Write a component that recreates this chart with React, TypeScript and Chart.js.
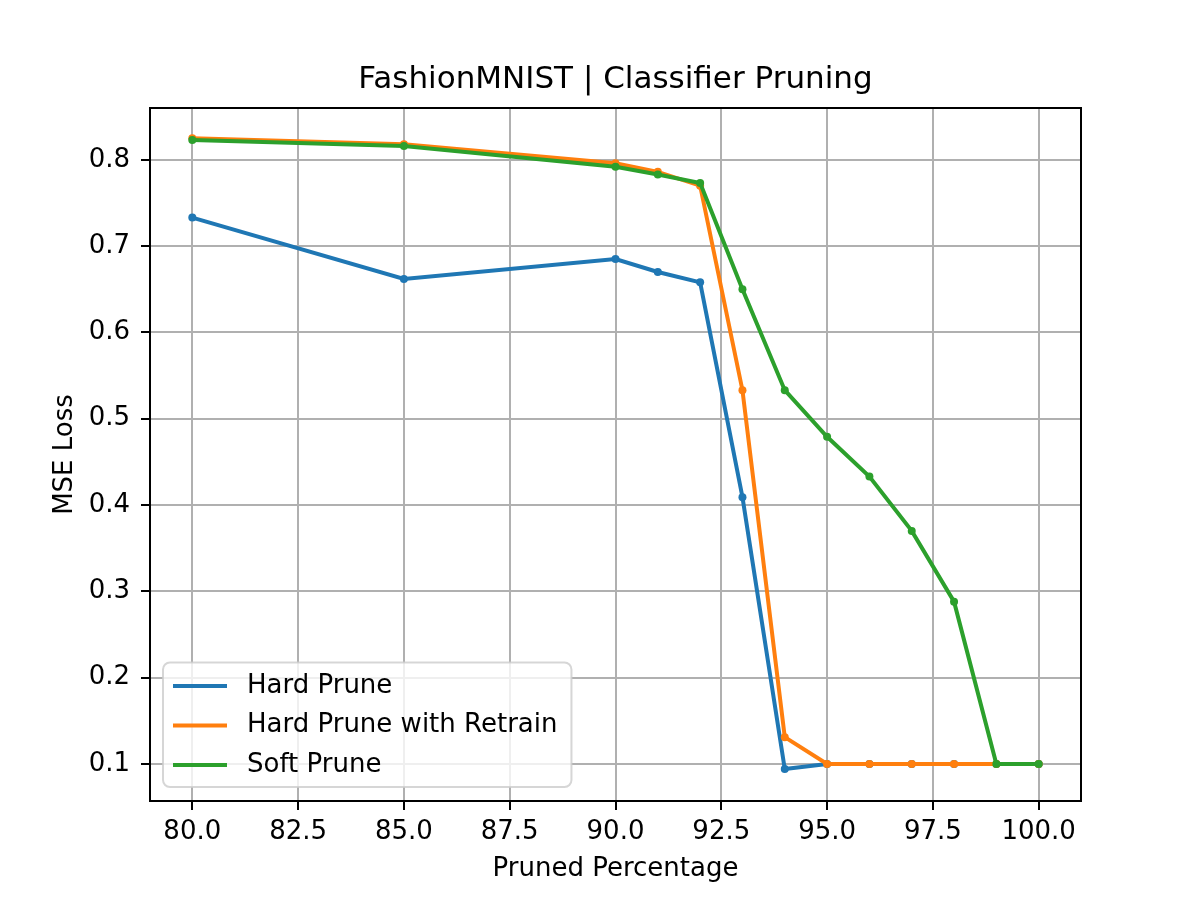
import React, { useEffect, useRef } from "react";
import { Chart, registerables } from "chart.js";

Chart.register(...registerables);

const pruned = [80, 85, 90, 91, 92, 93, 94, 95, 96, 97, 98, 99, 100];
const hardPrune = [0.733, 0.662, 0.685, 0.670, 0.658, 0.409, 0.094, 0.1, 0.1, 0.1, 0.1, 0.1, 0.1];
const hardRetrain = [0.825, 0.818, 0.796, 0.786, 0.770, 0.533, 0.131, 0.1, 0.1, 0.1, 0.1, 0.1, 0.1];
const softPrune = [0.823, 0.816, 0.792, 0.783, 0.773, 0.650, 0.533, 0.479, 0.433, 0.370, 0.288, 0.1, 0.1];

const xTicks = [80, 82.5, 85, 87.5, 90, 92.5, 95, 97.5, 100];
const yTicks = [0.1, 0.2, 0.3, 0.4, 0.5, 0.6, 0.7, 0.8];

const FONT = "'DejaVu Sans', sans-serif";

const frameAndLegend = {
  id: "frameAndLegend",
  afterDraw(chart: any) {
    const { ctx, chartArea } = chart;
    ctx.save();
    // axes frame
    ctx.strokeStyle = "#000";
    ctx.lineWidth = 2;
    ctx.strokeRect(chartArea.left, chartArea.top, chartArea.right - chartArea.left, chartArea.bottom - chartArea.top);

    // legend, lower left
    ctx.font = `26px ${FONT}`;
    const sets = chart.data.datasets;
    const textW = Math.max(...sets.map((d: any) => ctx.measureText(d.label).width));
    const rowH = 39.5;
    const w = 10 + 55 + 20 + textW + 13;
    const h = sets.length * rowH + 6;
    const x0 = chartArea.left + 13;
    const y0 = chartArea.bottom - 14 - h;
    ctx.beginPath();
    ctx.roundRect(x0, y0, w, h, 7);
    ctx.fillStyle = "rgba(255,255,255,0.8)";
    ctx.fill();
    ctx.strokeStyle = "rgba(204,204,204,0.8)";
    ctx.lineWidth = 2;
    ctx.stroke();
    sets.forEach((d: any, i: number) => {
      const cy = y0 + 23.5 + i * rowH;
      ctx.strokeStyle = d.borderColor;
      ctx.lineWidth = 4;
      ctx.beginPath();
      ctx.moveTo(x0 + 10, cy);
      ctx.lineTo(x0 + 64, cy);
      ctx.stroke();
      ctx.fillStyle = "#000";
      ctx.textBaseline = "middle";
      ctx.textAlign = "left";
      ctx.fillText(d.label, x0 + 84, cy);
    });
    ctx.restore();
  },
};

const line = (label: string, values: number[], color: string, order: number) => ({
  label,
  data: pruned.map((x, i) => ({ x, y: values[i] })),
  borderColor: color,
  backgroundColor: color,
  borderWidth: 4,
  pointRadius: 4,
  pointBorderWidth: 0,
  pointBackgroundColor: color,
  tension: 0,
  order,
});

const App: React.FC = () => {
  const canvasRef = useRef<HTMLCanvasElement>(null);

  useEffect(() => {
    if (!canvasRef.current) return;
    const chart = new Chart(canvasRef.current, {
      type: "line",
      data: {
        datasets: [
          line("Hard Prune", hardPrune, "#1f77b4", 2),
          line("Hard Prune with Retrain", hardRetrain, "#ff7f0e", 1),
          line("Soft Prune", softPrune, "#2ca02c", 0),
        ],
      },
      options: {
        responsive: false,
        animation: false,
        devicePixelRatio: 1,
        layout: { padding: { left: 0, right: 119, top: 0, bottom: 0 } },
        plugins: {
          legend: { display: false },
          tooltip: { enabled: false },
          title: {
            display: true,
            fullSize: false,
            text: "FashionMNIST | Classifier Pruning",
            color: "#000",
            font: { family: FONT, size: 31, weight: "normal" },
            padding: { top: 61.4, bottom: 9.4 },
          },
        },
        scales: {
          x: {
            type: "linear",
            min: 79,
            max: 101,
            afterBuildTicks: (scale: any) => {
              scale.ticks = xTicks.map((value) => ({ value }));
            },
            afterFit: (scale: any) => {
              scale.height = 99;
            },
            ticks: {
              color: "#000",
              font: { family: FONT, size: 26 },
              padding: 7,
              maxRotation: 0,
              autoSkip: false,
              callback: (v: any) => Number(v).toFixed(1),
            },
            grid: { color: "#b0b0b0", lineWidth: 2, tickColor: "#000", tickLength: 9, tickWidth: 2 },
            border: { display: false },
            title: {
              display: true,
              text: "Pruned Percentage",
              color: "#000",
              font: { family: FONT, size: 26 },
              padding: { top: 0, bottom: 15.4 },
            },
          },
          y: {
            type: "linear",
            min: 0.057,
            max: 0.86,
            afterBuildTicks: (scale: any) => {
              scale.ticks = yTicks.map((value) => ({ value }));
            },
            afterFit: (scale: any) => {
              scale.width = 150;
            },
            ticks: {
              color: "#000",
              font: { family: FONT, size: 26 },
              padding: 11,
              autoSkip: false,
              callback: (v: any) => Number(v).toFixed(1),
            },
            grid: { color: "#b0b0b0", lineWidth: 2, tickColor: "#000", tickLength: 9, tickWidth: 2 },
            border: { display: false },
            title: {
              display: true,
              text: "MSE Loss",
              color: "#000",
              font: { family: FONT, size: 26 },
              padding: { top: 49.4, bottom: 0 },
            },
          },
        },
      },
      plugins: [frameAndLegend],
    });
    return () => chart.destroy();
  }, []);

  return (
    <div style={{ position: "absolute", left: 0, top: 0, width: 1200, height: 900, background: "#fff" }}>
      <canvas ref={canvasRef} width={1200} height={900} />
    </div>
  );
};

export default App;
